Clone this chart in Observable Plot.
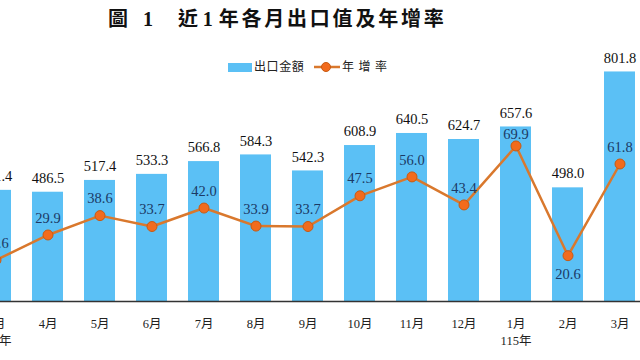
<!DOCTYPE html>
<html>
<head>
<meta charset="utf-8">
<script src="https://cdn.jsdelivr.net/npm/d3@7"></script>
<script src="https://cdn.jsdelivr.net/npm/@observablehq/plot@0.6"></script>
<style>
  html, body { margin: 0; padding: 0; background: #fff; }
  #wrap { position: relative; width: 640px; height: 360px; overflow: hidden; }
  .t { position: absolute; top: 6px; font-family: "Liberation Serif", "Noto Sans CJK TC", serif; font-weight: 700; font-size: 20px; line-height: 26px; color: #111; white-space: pre; }
  .t3 { letter-spacing: 2.8px; }
  .t3 .d { margin: 0 3px 0 2px; }
  .lg { position: absolute; top: 59px; height: 16px; line-height: 16px; font-family: "Liberation Serif", "Noto Sans CJK TC", serif; font-size: 12px; color: #222; white-space: pre; }
  .sw { position: absolute; left: 228px; top: 63px; width: 24px; height: 9px; background: #5BC0F5; }
  #plot { position: absolute; left: 0; top: 0; }
</style>
</head>
<body>
<div id="wrap">
  <div id="plot"></div>
  <div class="t" style="left:108px">圖</div>
  <div class="t" style="left:143px">1</div>
  <div class="t t3" style="left:178px">近<span class="d">1</span>年各月出口值及年增率</div>
  <div class="sw"></div>
  <div class="lg" style="left:254px; letter-spacing:0.6px">出口金額</div>
  <svg class="lg" style="left:314px; top:61px" width="26" height="12"><line x1="0" y1="6" x2="26" y2="6" stroke="#D9782D" stroke-width="2.5"/><circle cx="12" cy="6" r="4.5" fill="#F26B1D" stroke="#C85A12" stroke-width="1"/></svg>
  <div class="lg" style="left:342px; letter-spacing:4.5px">年增率</div>
</div>
<script>
const months = ["3月","4月","5月","6月","7月","8月","9月","10月","11月","12月","1月","2月","3月"];
const yearNotes = ["114年","","","","","","","","","","115年","",""];
const exportValue = [491.4, 486.5, 517.4, 533.3, 566.8, 584.3, 542.3, 608.9, 640.5, 624.7, 657.6, 498.0, 801.8];
const growthRate = [18.6, 29.9, 38.6, 33.7, 42.0, 33.9, 33.7, 47.5, 56.0, 43.4, 69.9, 20.6, 61.8];

const valueMin = 200, valueMax = 900, rateMax = 120;
const rateToValue = g => valueMin + g * (valueMax - valueMin) / rateMax;

const data = months.map((m, i) => ({
  i, month: m, note: yearNotes[i], value: exportValue[i], rate: growthRate[i], rateY: rateToValue(growthRate[i])
}));
const serif = '"Liberation Serif", "Noto Sans CJK TC", serif';
const rateText = { x: "i", y: "rateY", text: d => d.rate.toFixed(1), fontSize: 14.5, fontFamily: serif, fill: "#1B3A66" };

const chart = Plot.plot({
  width: 640,
  height: 360,
  marginTop: 34,
  marginBottom: 59,
  marginLeft: 0,
  marginRight: 0,
  style: { background: "transparent", fontFamily: serif },
  x: { type: "band", domain: d3.range(months.length), range: [-35.2, 651.2], paddingInner: 0.4, paddingOuter: 0.3, axis: null },
  y: { domain: [valueMin, valueMax], axis: null },
  marks: [
    Plot.barY(data, { x: "i", y1: valueMin, y2: "value", fill: "#5BC0F5" }),
    Plot.ruleY([valueMin], { stroke: "#333", strokeWidth: 1.5 }),
    Plot.axisX({ label: null, tickSize: 0, tickPadding: 15, fontSize: 12.5, fontFamily: serif, fill: "#222",
      tickFormat: i => months[i] + (yearNotes[i] ? "\n" + yearNotes[i] : ""), lineHeight: 1.35 }),
    Plot.text(data, { x: "i", y: "value", text: d => d.value.toFixed(1), dy: -14, fontSize: 14.5, fontFamily: serif, fill: "#111" }),
    Plot.line(data, { x: "i", y: "rateY", stroke: "#D9782D", strokeWidth: 2.5 }),
    Plot.dot(data, { x: "i", y: "rateY", r: 5, fill: "#F26B1D", stroke: "#C85A12", strokeWidth: 1 }),
    Plot.text(data.filter(d => d.i !== 11 && d.i !== 10), { ...rateText, dy: -17 }),
    Plot.text(data.filter(d => d.i === 10), { ...rateText, dy: -12 }),
    Plot.text(data.filter(d => d.i === 11), { ...rateText, dy: 19 })
  ]
});
document.getElementById("plot").appendChild(chart);
</script>
</body>
</html>
